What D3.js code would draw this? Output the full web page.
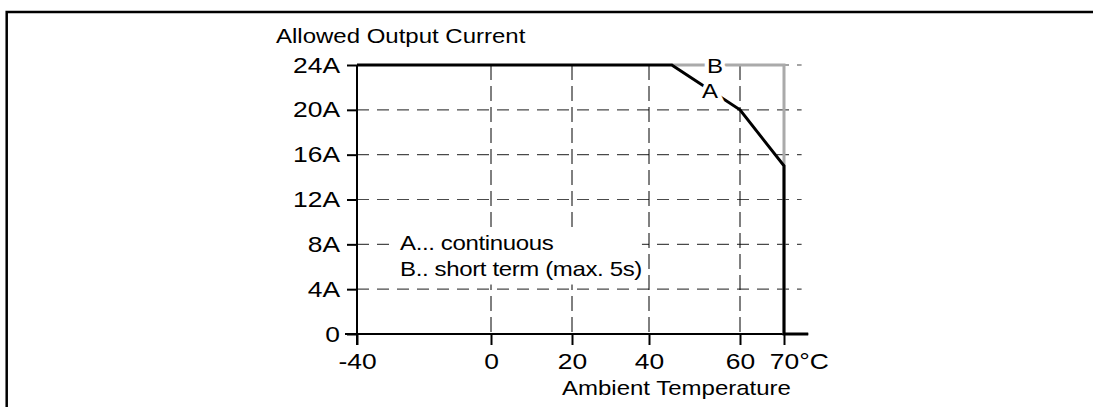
<!DOCTYPE html>
<html>
<head>
<meta charset="utf-8">
<script src="https://cdn.jsdelivr.net/npm/d3@7"></script>
<style>
  body { margin: 0; background: #fff; }
  svg { display: block; }
  text { font-family: "Liberation Sans", Arial, sans-serif; fill: #000; }
</style>
</head>
<body>
<svg id="chart" width="1093" height="407"></svg>
<script>
// data
const tempTicks = [-40, 0, 20, 40, 60, 70];
const tempLabels = ["-40", "0", "20", "40", "60", "70"];
const currentTicks = [0, 4, 8, 12, 16, 20, 24];
const currentLabels = ["0", "4A", "8A", "12A", "16A", "20A", "24A"];
const gridTemps = [0, 20, 40, 60];
const gridCurrents = [4, 8, 12, 16, 20, 24];
const curveA = [[-40, 24], [45, 24], [60, 20], [70, 15], [70, 0], [75.5, 0]];
const curveB = [[45, 24], [70, 24], [70, 0]];
const legendLines = ["A... continuous", "B.. short term (max. 5s)"];

const SX = 1.2; // horizontal text stretch of the original

const svg = d3.select("#chart");

// frame (only left and top edge visible)
svg.append("path")
  .attr("d", "M6.7,407V12H1093")
  .attr("fill", "none")
  .attr("stroke", "#000")
  .attr("stroke-width", 2.5);

// scales (the original axis is not evenly spaced)
const x = d3.scaleLinear()
  .domain(tempTicks)
  .range([357, 491, 572, 649, 740, 784]);
const y = d3.scaleLinear().domain([0, 24]).range([334, 65]);

// grid
svg.append("g")
  .selectAll("line")
  .data(gridCurrents)
  .join("line")
    .attr("x1", x(-40))
    .attr("x2", x(74))
    .attr("y1", d => y(d))
    .attr("y2", d => y(d))
    .attr("stroke", "#4a4a4a")
    .attr("stroke-width", 1.2)
    .attr("stroke-dasharray", "12,8");

svg.append("g")
  .selectAll("line")
  .data(gridTemps)
  .join("line")
    .attr("x1", d => x(d))
    .attr("x2", d => x(d))
    .attr("y1", y(24))
    .attr("y2", y(0))
    .attr("stroke", "#000")
    .attr("stroke-width", 1)
    .attr("stroke-dasharray", "15,6");

// legend with white backing
const legend = svg.append("g");
const legendBox = legend.append("rect").attr("fill", "#fff");
legendLines.forEach((t, i) => {
  legend.append("text")
    .attr("transform", `translate(400,${250 + i * 26}) scale(${SX},1)`)
    .style("font-size", "20px")
    .style("letter-spacing", "-0.3px")
    .text(t);
});
const lb = legend.node().getBBox();
legendBox
  .attr("x", lb.x - 6)
  .attr("y", lb.y - 2)
  .attr("width", lb.width + 6)
  .attr("height", lb.height + 6);

// x axis
const xAxis = svg.append("g")
  .attr("transform", `translate(0,${y(0)})`)
  .call(d3.axisBottom(x)
    .tickValues(tempTicks)
    .tickFormat((d, i) => tempLabels[i])
    .tickSize(11)
    .tickPadding(8)
    .tickSizeOuter(0));
xAxis.select(".domain").remove();
xAxis.selectAll(".tick line").attr("stroke", "#000").attr("stroke-width", 2);
xAxis.selectAll(".tick text")
  .attr("transform", `scale(${SX},1)`)
  .style("font-size", "22px")
  .attr("fill", "#000");
// "70°C": keep the number centred on its tick
xAxis.selectAll(".tick text").filter(d => d === 70).each(function () {
  const t = d3.select(this);
  t.text(null);
  const num = t.append("tspan").text("70");
  t.append("tspan").text("°C");
  const w = num.node().getComputedTextLength();
  t.attr("text-anchor", "start").attr("x", -w / 2);
});
svg.append("line")
  .attr("x1", x(-40) - 12)
  .attr("x2", x(75.5))
  .attr("y1", y(0))
  .attr("y2", y(0))
  .attr("stroke", "#000")
  .attr("stroke-width", 2);

// y axis
const yAxis = svg.append("g")
  .attr("transform", `translate(${x(-40)},0)`)
  .call(d3.axisLeft(y)
    .tickValues(currentTicks)
    .tickFormat((d, i) => currentLabels[i])
    .tickSize(10)
    .tickPadding(7)
    .tickSizeOuter(0));
yAxis.select(".domain").remove();
yAxis.selectAll(".tick line").attr("stroke", "#000").attr("stroke-width", 2);
yAxis.selectAll(".tick text")
  .attr("x", -17 / SX)
  .attr("transform", `scale(${SX},1)`)
  .style("font-size", "22px")
  .attr("fill", "#000");
svg.append("line")
  .attr("x1", x(-40))
  .attr("x2", x(-40))
  .attr("y1", y(24))
  .attr("y2", y(0) + 11)
  .attr("stroke", "#000")
  .attr("stroke-width", 2);

// axis titles
svg.append("text")
  .attr("transform", `translate(276,43) scale(${SX},1)`)
  .style("font-size", "20px")
  .text("Allowed Output Current");
svg.append("text")
  .attr("transform", `translate(562,395) scale(${SX},1)`)
  .style("font-size", "20px")
  .text("Ambient Temperature");

// curves
const line = d3.line().x(d => x(d[0])).y(d => y(d[1]));
svg.append("path")
  .attr("d", line(curveB))
  .attr("fill", "none")
  .attr("stroke", "#aaa")
  .attr("stroke-width", 3);
svg.append("path")
  .attr("d", line(curveA))
  .attr("fill", "none")
  .attr("stroke", "#000")
  .attr("stroke-width", 3)
  .attr("stroke-linejoin", "miter");

// curve labels with white halo
[["B", 715, 73], ["A", 710, 98]].forEach(([t, lx, ly]) => {
  svg.append("text")
    .attr("transform", `translate(${lx},${ly}) scale(${SX},1)`)
    .attr("text-anchor", "middle")
    .style("font-size", "20px")
    .attr("stroke", "#fff")
    .attr("stroke-width", 7)
    .attr("paint-order", "stroke")
    .text(t);
});
</script>
</body>
</html>
